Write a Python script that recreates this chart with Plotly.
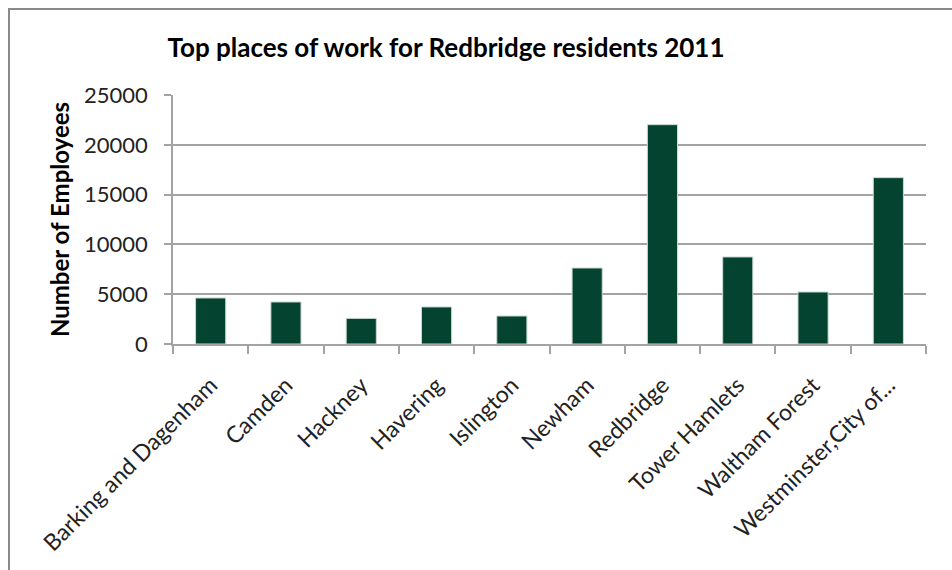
import plotly.graph_objects as go

# Workplace boroughs and number of Redbridge residents employed there (2011)
places = [
    "Barking and Dagenham", "Camden", "Hackney", "Havering", "Islington",
    "Newham", "Redbridge", "Tower Hamlets", "Waltham Forest", "Westminster,City of...",
]
employees = [4620, 4220, 2570, 3720, 2810, 7630, 22020, 8740, 5220, 16700]

y_ticks = [0, 5000, 10000, 15000, 20000, 25000]

W, H = 952, 570
L, R, T, B = 173, 26, 95, 226
plot_w = W - L - R
plot_h = H - T - B

FONT = "Lato, 'Open Sans', sans-serif"
BAR_COLOR = "#03432F"
GRID = "#A3A3A3"

fig = go.Figure(
    go.Bar(
        x=places,
        y=employees,
        marker=dict(color=BAR_COLOR, line=dict(color="#C8D8D0", width=1)),
        hoverinfo="x+y",
    )
)

# Outer chart frame (runs off the right and bottom of the page)
def px_to_paper_x(px):
    return (px - L) / plot_w

def px_to_paper_y(py):
    return (H - B - py) / plot_h

fig.add_shape(
    type="rect", xref="paper", yref="paper",
    x0=px_to_paper_x(9), x1=px_to_paper_x(975),
    y0=px_to_paper_y(600), y1=px_to_paper_y(9),
    line=dict(color="#8A8A8A", width=2), fillcolor="rgba(0,0,0,0)", layer="below",
)

fig.update_layout(
    width=W, height=H,
    margin=dict(l=L, r=R, t=T, b=B, autoexpand=False),
    paper_bgcolor="white", plot_bgcolor="white",
    bargap=0.6,
    showlegend=False,
    font=dict(family=FONT, color="#111111", size=22),
    title=dict(
        text="<b>Top places of work for Redbridge residents 2011</b>",
        x=446 / W, xanchor="center", xref="container",
        y=1 - 48 / H, yanchor="middle", yref="container",
        font=dict(family=FONT, size=26, color="#000000"),
    ),
)

fig.update_yaxes(
    range=[0, 25000],
    tickvals=y_ticks,
    ticktext=[str(v) for v in y_ticks],
    showgrid=True, gridcolor=GRID, gridwidth=1.5,
    showline=True, linecolor=GRID, linewidth=1.5,
    ticks="outside", ticklen=7, tickcolor=GRID, tickwidth=1.5,
    ticklabelstandoff=12,
    tickfont=dict(family=FONT, size=22, color="#222222"),
    zeroline=False,
    title=dict(
        text="<b>Number of Employees</b>",
        font=dict(family=FONT, size=24, color="#000000"),
        standoff=8,
    ),
)

fig.update_xaxes(
    type="category",
    tickangle=-45,
    showline=True, linecolor=GRID, linewidth=1.5,
    ticks="outside", tickson="boundaries", ticklen=8, tickcolor=GRID, tickwidth=1.5,
    ticklabelstandoff=17,
    tickfont=dict(family=FONT, size=23, color="#222222"),
    showgrid=False,
)

fig.write_html("out.html")
